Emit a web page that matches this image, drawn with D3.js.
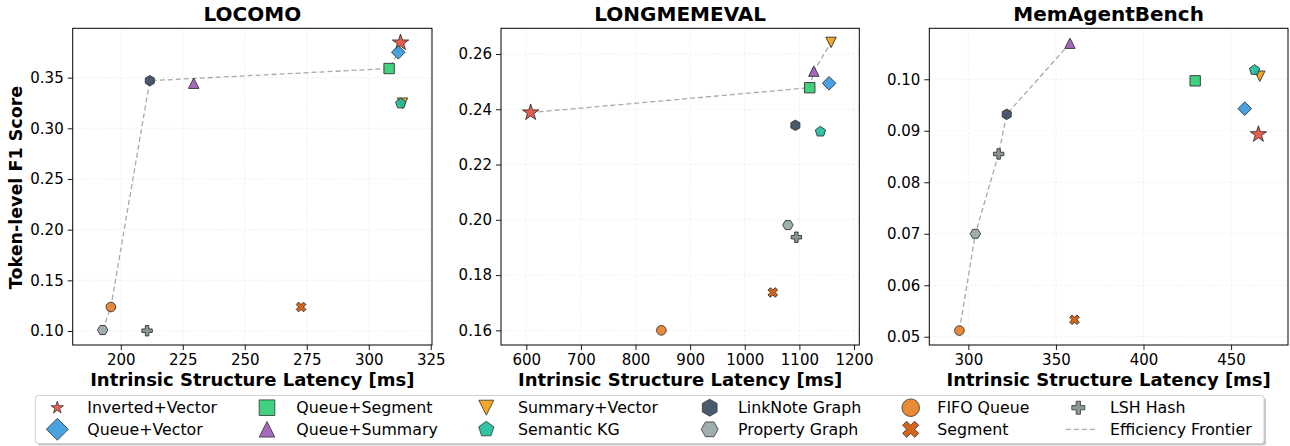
<!DOCTYPE html>
<html><head><meta charset="utf-8">
<script src="https://cdn.jsdelivr.net/npm/d3@7"></script>
<style>
html,body{margin:0;padding:0;background:#fff;}
svg{display:block;font-family:"DejaVu Sans",sans-serif;}
</style></head>
<body>
<svg id="chart" width="1290" height="446"></svg>
<script>
// ---------------- data ----------------
const methods = ["Inverted+Vector","Queue+Vector","Queue+Segment","Queue+Summary","Summary+Vector","Semantic KG","LinkNote Graph","Property Graph","FIFO Queue","Segment","LSH Hash"];
const methodColors = ["#e74c3c","#3498db","#2ecc71","#9b59b6","#f39c12","#1abc9c","#34495e","#95a5a6","#e67e22","#d35400","#7f8c8d"];
const methodShapes = ["star","diamond","square","triangleUp","triangleDown","pentagon","hexPointy","hexFlat","circle","xFilled","plusFilled"];

const benchmarks = ["LOCOMO","LONGMEMEVAL","MemAgentBench"];

const locomoLatency = [312.8, 311.9, 308.2, 229.4, 313.6, 312.9, 211.7, 192.7, 196.0, 272.7, 210.6];
const locomoF1      = [0.3845, 0.375, 0.359, 0.3445, 0.3248, 0.3245, 0.347, 0.101, 0.1237, 0.1237, 0.1003];

const longmemLatency = [608, 1154.4, 1119, 1126.4, 1158, 1138.5, 1092.7, 1079, 847.3, 1051.3, 1094.5];
const longmemF1      = [0.2388, 0.2494, 0.2478, 0.2538, 0.2642, 0.2319, 0.2342, 0.1981, 0.1600, 0.1737, 0.1937];

const memagentLatency = [465.6, 457.8, 429.5, 358.0, 466.4, 463.4, 321.9, 304.0, 294.9, 360.6, 317.3];
const memagentF1      = [0.0893, 0.0943, 0.0997, 0.1070, 0.1006, 0.1018, 0.0932, 0.0700, 0.0512, 0.0533, 0.0855];

const locomoXTicks = [200, 225, 250, 275, 300, 325];
const locomoYTicks = [0.10, 0.15, 0.20, 0.25, 0.30, 0.35];
const longmemXTicks = [600, 700, 800, 900, 1000, 1100, 1200];
const longmemYTicks = [0.16, 0.18, 0.20, 0.22, 0.24, 0.26];
const memagentXTicks = [300, 350, 400, 450];
const memagentYTicks = [0.05, 0.06, 0.07, 0.08, 0.09, 0.10];

const xLabel = "Intrinsic Structure Latency [ms]";
const yLabel = "Token-level F1 Score";
const frontierLabel = "Efficiency Frontier";

// ---------------- layout ----------------
const panels = [
  {title: benchmarks[0], lat: locomoLatency, f1: locomoF1, xt: locomoXTicks, yt: locomoYTicks,
   x0: 72.7, x1: 432, xd: [180.6, 325.5], yd: [0.0862, 0.3987]},
  {title: benchmarks[1], lat: longmemLatency, f1: longmemF1, xt: longmemXTicks, yt: longmemYTicks,
   x0: 501, x1: 859.3, xd: [553.7, 1209.7], yd: [0.1547, 0.2693]},
  {title: benchmarks[2], lat: memagentLatency, f1: memagentF1, xt: memagentXTicks, yt: memagentYTicks,
   x0: 929.3, x1: 1288, xd: [277.7, 482.5], yd: [0.0484, 0.1099]}
];
const yTop = 28.3, yBot = 345;

// ---------------- marker shapes ----------------
function poly(pts){ return "M" + pts.map(p => p[0].toFixed(2)+","+p[1].toFixed(2)).join("L") + "Z"; }
function regular(n, r, rot){
  const pts=[]; for(let i=0;i<n;i++){const a=rot+i*2*Math.PI/n; pts.push([r*Math.sin(a), -r*Math.cos(a)]);} return poly(pts);
}
function shapePath(shape, r){
  switch(shape){
    case "star": {
      const pts=[]; const ri=r*0.382;
      for(let i=0;i<10;i++){const a=i*Math.PI/5; const rr=i%2?ri:r; pts.push([rr*Math.sin(a), -rr*Math.cos(a)]);}
      return poly(pts);
    }
    case "diamond": return poly([[0,-r],[r,0],[0,r],[-r,0]]);
    case "square": return poly([[-r,-r],[r,-r],[r,r],[-r,r]]);
    case "triangleUp": return poly([[0,-r],[r,r],[-r,r]]);
    case "triangleDown": return poly([[0,r],[-r,-r],[r,-r]]);
    case "pentagon": return regular(5, r, 0);
    case "hexPointy": return regular(6, r, 0);
    case "hexFlat": return regular(6, r, Math.PI/6);
    case "circle": return `M${r},0A${r},${r},0,1,1,${-r},0A${r},${r},0,1,1,${r},0Z`;
    case "plusFilled": case "xFilled": {
      const u=r/3;
      let pts=[[-u,-3*u],[u,-3*u],[u,-u],[3*u,-u],[3*u,u],[u,u],[u,3*u],[-u,3*u],[-u,u],[-3*u,u],[-3*u,-u],[-u,-u]];
      if(shape==="xFilled"){const c=Math.SQRT1_2; pts=pts.map(p=>[(p[0]-p[1])*c*0.95,(p[0]+p[1])*c*0.95]);}
      return poly(pts);
    }
  }
}
const plotR   = {star:8.6, diamond:6.8, square:5.2, triangleUp:5.2, triangleDown:5.2, pentagon:5.4, hexPointy:5.2, hexFlat:5.2, circle:4.8, xFilled:5.4, plusFilled:5.2};
const legendR = {star:6.5, diamond:11, square:7.8, triangleUp:7.8, triangleDown:7.5, pentagon:8, hexPointy:8.5, hexFlat:8.5, circle:8.8, xFilled:9, plusFilled:6.5};

const svg = d3.select("#chart");
svg.append("rect").attr("width",1290).attr("height",446).attr("fill","#fff");

panels.forEach((p, pi) => {
  const x = d3.scaleLinear().domain(p.xd).range([p.x0, p.x1]);
  const y = d3.scaleLinear().domain(p.yd).range([yBot, yTop]);
  const g = svg.append("g");

  // grid
  g.append("g").selectAll("line.gx").data(p.xt).join("line")
    .attr("x1", d=>x(d)).attr("x2", d=>x(d)).attr("y1", yTop).attr("y2", yBot)
    .attr("stroke","#b0b0b0").attr("stroke-opacity",0.22).attr("stroke-width",0.8).attr("stroke-dasharray","2.5,2");
  g.append("g").selectAll("line.gy").data(p.yt).join("line")
    .attr("y1", d=>y(d)).attr("y2", d=>y(d)).attr("x1", p.x0).attr("x2", p.x1)
    .attr("stroke","#b0b0b0").attr("stroke-opacity",0.22).attr("stroke-width",0.8).attr("stroke-dasharray","2.5,2");

  // efficiency frontier (Pareto: lower latency, higher F1)
  const pts = p.lat.map((l,i)=>({l, f:p.f1[i]})).sort((a,b)=>a.l-b.l || b.f-a.f);
  const front=[]; let best=-Infinity;
  pts.forEach(d=>{ if(d.f>best){front.push(d); best=d.f;} });
  g.append("path").datum(front)
    .attr("d", d3.line().x(d=>x(d.l)).y(d=>y(d.f)))
    .attr("fill","none").attr("stroke","#a9a9a9").attr("stroke-width",1.3).attr("stroke-dasharray","5,3");

  // markers
  methods.forEach((m,i)=>{
    const sh = methodShapes[i];
    g.append("path")
      .attr("d", shapePath(sh, plotR[sh]))
      .attr("transform", `translate(${x(p.lat[i])},${y(p.f1[i])})`)
      .attr("fill", methodColors[i]).attr("fill-opacity",0.9)
      .attr("stroke","#333").attr("stroke-width",0.9);
  });

  // axes
  const xa = g.append("g").attr("transform",`translate(0,${yBot})`)
    .call(d3.axisBottom(x).tickValues(p.xt).tickFormat(d3.format("d")).tickSize(5).tickPadding(4.5).tickSizeOuter(0));
  const ya = g.append("g").attr("transform",`translate(${p.x0},0)`)
    .call(d3.axisLeft(y).tickValues(p.yt).tickFormat(d3.format(".2f")).tickSize(5).tickPadding(4).tickSizeOuter(0));
  [xa,ya].forEach(a=>{
    a.select(".domain").remove();
    a.selectAll("text").attr("font-size",15).attr("fill","#000").attr("font-family","DejaVu Sans");
    a.selectAll("line").attr("stroke","#000").attr("stroke-width",0.9);
  });

  // frame
  g.append("rect").attr("x",p.x0).attr("y",yTop).attr("width",p.x1-p.x0).attr("height",yBot-yTop)
    .attr("fill","none").attr("stroke","#000").attr("stroke-width",1);

  // title & x label
  g.append("text").attr("x",(p.x0+p.x1)/2).attr("y",20.5).attr("text-anchor","middle")
    .attr("font-size",20).attr("font-weight","bold").text(p.title);
  g.append("text").attr("x",(p.x0+p.x1)/2).attr("y",386).attr("text-anchor","middle")
    .attr("font-size",18).attr("font-weight","bold").text(xLabel);
  if(pi===0){
    g.append("text").attr("transform","translate(22,187.5) rotate(-90)").attr("text-anchor","middle")
      .attr("font-size",17.5).attr("font-weight","bold").text(yLabel);
  }
});

// ---------------- legend ----------------
const lg = svg.append("g");
const bx0=35.3, bx1=1264, by0=395.5, by1=443.5;
lg.append("rect").attr("x",bx0+2).attr("y",by0+2).attr("width",bx1-bx0).attr("height",by1-by0)
  .attr("rx",3).attr("fill","#999").attr("fill-opacity",0.55);
lg.append("rect").attr("x",bx0).attr("y",by0).attr("width",bx1-bx0).attr("height",by1-by0)
  .attr("rx",3).attr("fill","#fff").attr("stroke","#d0d0d0").attr("stroke-width",1);

const colMarkerX = [57.3, 267, 486.3, 709.7, 910.7, 1078.3];
const colTextX   = [87.3, 296.3, 518, 738, 937.3, 1110];
const rowY = [407.7, 429.3];
const entries = methods.map((m,i)=>({label:m, i})).concat([{label:frontierLabel, i:-1}]);
entries.forEach((e,k)=>{
  const col=Math.floor(k/2), row=k%2;
  const cx=colMarkerX[col], cy=rowY[row];
  if(e.i>=0){
    const sh=methodShapes[e.i];
    lg.append("path").attr("d",shapePath(sh,legendR[sh])).attr("transform",`translate(${cx},${cy})`)
      .attr("fill",methodColors[e.i]).attr("fill-opacity",0.9).attr("stroke","#333").attr("stroke-width",0.8);
  } else {
    lg.append("line").attr("x1",cx-12.5).attr("x2",cx+16.5).attr("y1",cy).attr("y2",cy)
      .attr("stroke","#a9a9a9").attr("stroke-width",1.3).attr("stroke-dasharray","5,3");
  }
  lg.append("text").attr("x",colTextX[col]).attr("y",cy).attr("dy","0.36em")
    .attr("font-size",15.8).attr("fill","#000").text(e.label);
});
</script>
</body></html>
